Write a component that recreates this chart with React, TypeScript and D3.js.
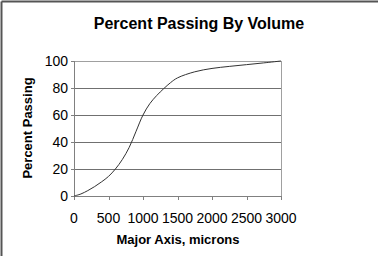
import * as React from "react";
import * as d3 from "d3";

// particle size (microns) vs cumulative percent passing
const sizes = [0, 100, 200, 300, 400, 500, 600, 700, 800, 900, 1000, 1100, 1200, 1300, 1400, 1500, 1750, 2000, 2250, 2500, 2750, 3000];
const passing = [0, 1.5, 4, 7, 10.5, 14.5, 20, 27, 36, 48, 60, 68.5, 74.5, 79.5, 84, 87.5, 92, 94.5, 96, 97.3, 98.6, 100];
const xTicks = [0, 500, 1000, 1500, 2000, 2500, 3000];
const yTicks = [0, 20, 40, 60, 80, 100];

const W = 378;
const H = 256;
const font = "'Liberation Sans', Arial, sans-serif";

export default function App() {
    const x = d3.scaleLinear().domain([0, 3000]).range([74, 281]);
    const y = d3.scaleLinear().domain([0, 100]).range([196, 61]);

    const pts: [number, number][] = sizes.map((s, i) => [s, passing[i]]);
    const line = d3.line<[number, number]>()
        .x(d => x(d[0]))
        .y(d => y(d[1]))
        .curve(d3.curveCatmullRom.alpha(0.5));

    return (
        <svg width={W} height={H} style={{ position: "absolute", left: 0, top: 0, background: "#fff" }}>
            {/* outer frame: only left and top edges show */}
            <line x1={1.5} x2={1.5} y1={1.5} y2={H} stroke="#555" strokeWidth={2} />
            <line x1={1.5} x2={W} y1={1.5} y2={1.5} stroke="#555" strokeWidth={2} />

            <text x={199} y={29} textAnchor="middle" fontFamily={font} fontWeight="bold" fontSize={16}>
                Percent Passing By Volume
            </text>

            {/* plot frame */}
            <line x1={x(0)} x2={x(3000)} y1={y(100) + 0.5} y2={y(100) + 0.5} stroke="#a0a0a0" />
            <line x1={x(3000) + 0.5} x2={x(3000) + 0.5} y1={y(100)} y2={y(0)} stroke="#a0a0a0" />

            {yTicks.filter(t => t > 0 && t < 100).map(t => (
                <line key={t} x1={x(0)} x2={x(3000)} y1={Math.round(y(t)) + 0.5} y2={Math.round(y(t)) + 0.5} stroke="#707070" />
            ))}

            {/* axes */}
            <line x1={x(0) + 0.5} x2={x(0) + 0.5} y1={y(100)} y2={y(0) + 1} stroke="#808080" />
            <line x1={x(0)} x2={x(3000) + 1} y1={y(0) + 0.5} y2={y(0) + 0.5} stroke="#808080" />

            {yTicks.map(t => (
                <g key={t}>
                    <line x1={x(0) - 3} x2={x(0)} y1={Math.round(y(t)) + 0.5} y2={Math.round(y(t)) + 0.5} stroke="#808080" />
                    <text x={68} y={y(t) + 5} textAnchor="end" fontFamily={font} fontSize={14}>{t}</text>
                </g>
            ))}
            {xTicks.map(t => (
                <g key={t}>
                    <line x1={Math.round(x(t)) + 0.5} x2={Math.round(x(t)) + 0.5} y1={y(0)} y2={y(0) + 4} stroke="#808080" />
                    <text x={x(t)} y={223} textAnchor="middle" fontFamily={font} fontSize={14}>{t}</text>
                </g>
            ))}

            <path d={line(pts) || ""} fill="none" stroke="#333" strokeWidth={1} />

            <text transform="translate(32,128) rotate(-90)" textAnchor="middle" fontFamily={font} fontWeight="bold" fontSize={13}>
                Percent Passing
            </text>
            <text x={178} y={244} textAnchor="middle" fontFamily={font} fontWeight="bold" fontSize={13}>
                Major Axis, microns
            </text>
        </svg>
    );
}
